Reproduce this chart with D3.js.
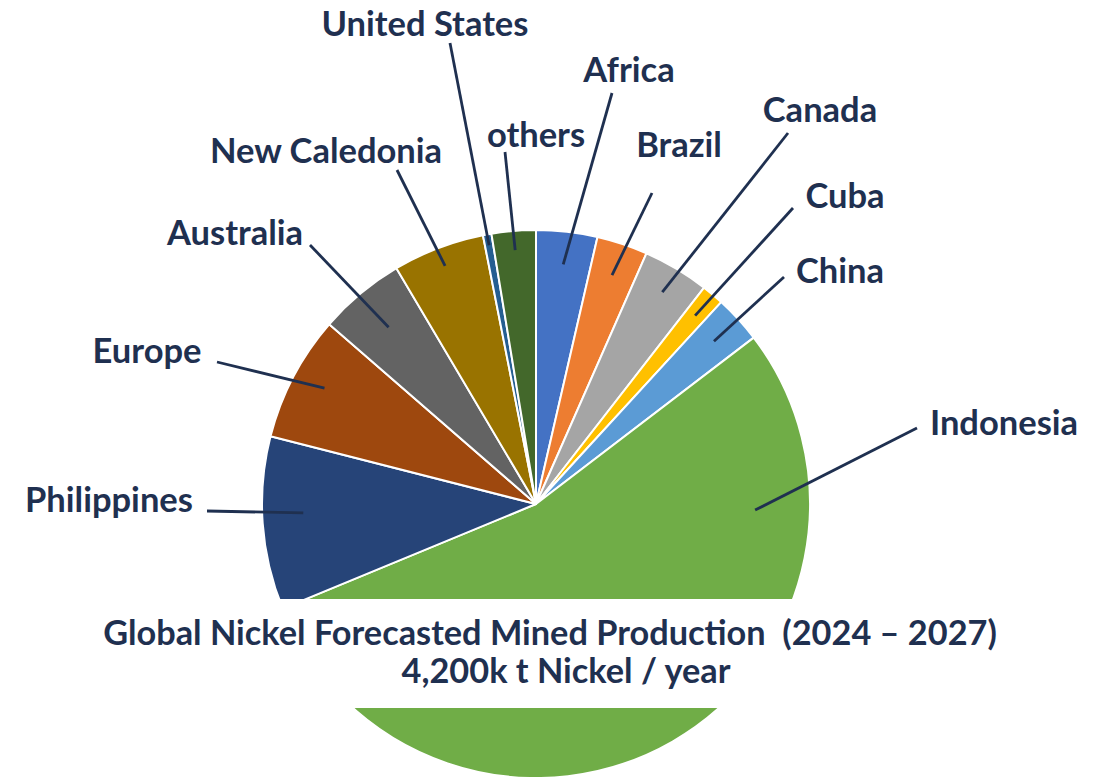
<!DOCTYPE html>
<html>
<head>
<meta charset="utf-8">
<script src="https://cdn.jsdelivr.net/npm/d3@7"></script>
<style>
  html, body { margin: 0; padding: 0; background: #ffffff; }
  svg { display: block; }
  text { font-family: Lato, "Open Sans", sans-serif; font-weight: 700; fill: #1f3050; }
  text.title { white-space: pre; }
</style>
</head>
<body>
<svg id="chart" width="1107" height="777"></svg>
<script>
// Share of forecast mined nickel output (%), clockwise from 12 o'clock
const regions = ["Africa", "Brazil", "Canada", "Cuba", "China", "Indonesia",
                 "Philippines", "Europe", "Australia", "New Caledonia", "United States", "others"];
const shares = [3.6, 3.0, 3.9, 1.3, 2.8, 54.1, 10.2, 7.4, 5.1, 5.4, 0.5, 2.6];
const colors = ["#4472c4", "#ed7d31", "#a5a5a5", "#ffc000", "#5b9bd5", "#70ad47",
                "#264478", "#9e480e", "#636363", "#997300", "#255e91", "#43682b"];
const titleLines = ["Global Nickel Forecasted Mined Production  (2024 \u2013 2027)",
                    "4,200k t Nickel / year"];

// Label placement: text anchor point, leader start near label, leader end (radius fraction, optional angle in degrees)
const labelLayout = {
  "Africa":        { x: 629, y: 82,  lx: 612, ly: 93,  rf: 0.88 },
  "Brazil":        { x: 679, y: 157, lx: 652, ly: 193, rf: 0.88 },
  "Canada":        { x: 820, y: 122, lx: 788, ly: 133, rf: 0.90 },
  "Cuba":          { x: 845, y: 208, lx: 793, ly: 208, rf: 0.90 },
  "China":         { x: 840, y: 283, lx: 784, ly: 277, rf: 0.88 },
  "Indonesia":     { x: 1004, y: 435, lx: 917, ly: 428, rf: 0.80, deg: 91.6 },
  "Philippines":   { x: 109, y: 512, lx: 207, ly: 511, rf: 0.85, deg: 267.8 },
  "Europe":        { x: 147, y: 363, lx: 217, ly: 362, rf: 0.88, deg: 298.7 },
  "Australia":     { x: 235, y: 245, lx: 310, ly: 245, rf: 0.84 },
  "New Caledonia": { x: 326, y: 163, lx: 397, ly: 170, rf: 0.93 },
  "United States": { x: 425, y: 36,  lx: 450, ly: 43,  rf: 0.96 },
  "others":        { x: 536, y: 147, lx: 505, ly: 152, rf: 0.93 }
};
const titleX = [550, 566];

const svg = d3.select("#chart");
const cx = 536, cy = 504, R = 274;

const data = regions.map((name, i) => ({ name, value: shares[i], color: colors[i] }));
const pie = d3.pie().sort(null).value(d => d.value);
const arcs = pie(data);
const arc = d3.arc().innerRadius(0).outerRadius(R);

const g = svg.append("g").attr("transform", `translate(${cx},${cy})`);

g.selectAll("path.slice")
  .data(arcs)
  .join("path")
  .attr("class", "slice")
  .attr("d", arc)
  .attr("fill", d => d.data.color)
  .attr("stroke", "#ffffff")
  .attr("stroke-width", 2)
  .attr("stroke-linejoin", "round");

// Leader lines and labels
arcs.forEach(a => {
  const L = labelLayout[a.data.name];
  const ang = L.deg !== undefined ? L.deg * Math.PI / 180 : (a.startAngle + a.endAngle) / 2;
  const r = R * L.rf;
  const ex = cx + r * Math.sin(ang);
  const ey = cy - r * Math.cos(ang);
  svg.append("line")
    .attr("x1", L.lx).attr("y1", L.ly)
    .attr("x2", ex).attr("y2", ey)
    .attr("stroke", "#1f3050")
    .attr("stroke-width", 2.8);
  svg.append("text")
    .attr("x", L.x).attr("y", L.y)
    .attr("text-anchor", "middle")
    .attr("font-size", 34.5)
    .text(a.data.name);
});

// Title band over the lower part of the pie
svg.append("rect")
  .attr("x", 0).attr("y", 599)
  .attr("width", 1107).attr("height", 109)
  .attr("fill", "#ffffff");

svg.selectAll("text.title")
  .data(titleLines)
  .join("text")
  .attr("class", "title")
  .attr("x", (d, i) => titleX[i])
  .attr("y", (d, i) => 645 + i * 38)
  .attr("text-anchor", "middle")
  .attr("font-size", 34.3)
  .text(d => d);
</script>
</body>
</html>
